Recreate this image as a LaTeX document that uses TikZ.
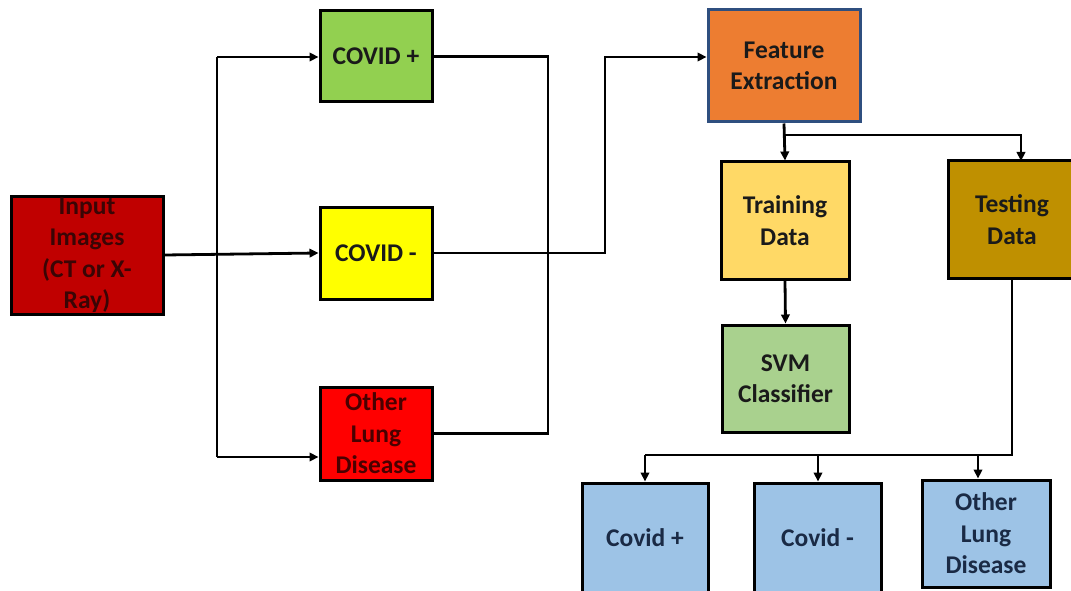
\documentclass[tikz,border=0pt]{standalone}
\usepackage{fontspec}
\setmainfont{Carlito}
\usetikzlibrary{arrows.meta}
\definecolor{inpred}{HTML}{C00000}
\definecolor{inptext}{HTML}{3A0505}
\definecolor{posgreen}{HTML}{92D050}
\definecolor{negyellow}{HTML}{FFFF00}
\definecolor{lungred}{HTML}{FF0000}
\definecolor{lungtext}{HTML}{4A0000}
\definecolor{featorange}{HTML}{ED7D31}
\definecolor{featborder}{HTML}{2F4F7F}
\definecolor{trainyellow}{HTML}{FFD966}
\definecolor{testgold}{HTML}{BF9000}
\definecolor{svmgreen}{HTML}{A9D18E}
\definecolor{outblue}{HTML}{9DC3E6}
\definecolor{outtext}{HTML}{1A2A45}
\definecolor{boxtext}{HTML}{1A1A1A}
\tikzset{
  box/.style={draw=black, line width=3pt, rectangle, align=center,
    inner sep=0pt, text=boxtext,
    font=\fontsize{25.5}{31.5}\selectfont\bfseries},
  link/.style={draw=black, line width=2.8pt},
  arr/.style={link, -{Triangle[length=9pt,width=8.5pt]}},
}
\begin{document}
\begin{tikzpicture}[x=1pt,y=-1pt]
  \useasboundingbox (0,0) rectangle (1071,591);
  \clip (0,0) rectangle (1071,591);

  % input and first-stage categories
  \node[box, fill=inpred, text=inptext, minimum width=152pt, minimum height=118pt]
    (inp) at (87,255) {Input\\Images\\(CT or X-\\Ray)};
  \node[box, fill=posgreen, minimum width=112pt, minimum height=91pt]
    (cp) at (376,56.5) {COVID +};
  \node[box, fill=negyellow, minimum width=112pt, minimum height=92pt]
    (cm) at (376,253) {COVID -};
  \node[box, fill=lungred, text=lungtext, minimum width=112pt, minimum height=93pt]
    (ol) at (376,433.5) {Other\\Lung\\Disease};

  % feature extraction and data split
  \node[box, draw=featborder, fill=featorange, minimum width=152pt, minimum height=112pt]
    (fe) at (784,66) {Feature\\Extraction};
  \node[box, fill=trainyellow, minimum width=128pt, minimum height=117pt]
    (tr) at (785,220.5) {Training\\Data};
  \node[box, fill=testgold, minimum width=128pt, minimum height=117pt]
    (te) at (1012,219.5) {Testing\\Data};
  \node[box, fill=svmgreen, minimum width=127pt, minimum height=107pt]
    (svm) at (785.5,378.5) {SVM\\Classifier};

  % output classes
  \node[box, fill=outblue, text=outtext, minimum width=126pt, minimum height=109pt]
    (o1) at (645,537.5) {Covid +};
  \node[box, fill=outblue, text=outtext, minimum width=127pt, minimum height=109pt]
    (o2) at (817.5,537.5) {Covid -};
  \node[box, fill=outblue, text=outtext, minimum width=128pt, minimum height=107pt]
    (o3) at (986,533.5) {Other\\Lung\\Disease};

  % routing points
  \coordinate (ja) at (217,57);
  \coordinate (jb) at (217,457);
  \coordinate (mr) at (548,0);
  \coordinate (fx) at (605,57);
  \coordinate (fs) at (784,135);
  \coordinate (tx) at (1021,161);
  \coordinate (ob) at (645,455);
  \coordinate (t2) at (818,455);
  \coordinate (t3) at (978,455);

  % input fan-out
  \draw[arr] (inp.east) -- (cm.west);
  \draw[link] (ja) -- (jb);
  \draw[arr] (ja) -- (ja -| cp.west);
  \draw[arr] (jb) -- (jb -| ol.west);

  % collector on the right of the categories
  \draw[link] (cp.east) -- (cp.east -| mr) -- (ol.east -| mr) -- (ol.east);

  % to feature extraction
  \draw[arr] (cm.east) -| (fx) -- (fx -| fe.west);

  % feature extraction to training / testing
  \draw[arr] (fe.south) -- (tr.north);
  \draw[arr] (fs) -| (tx);

  % training to classifier
  \draw[arr] (tr.south) -- (svm.north);

  % testing to output classes
  \draw[link] (te.south) |- (ob);
  \draw[arr] (ob) -- (ob |- o1.north);
  \draw[arr] (t2) -- (t2 |- o2.north);
  \draw[arr] (t3) -- (t3 |- o3.north);
\end{tikzpicture}
\end{document}
